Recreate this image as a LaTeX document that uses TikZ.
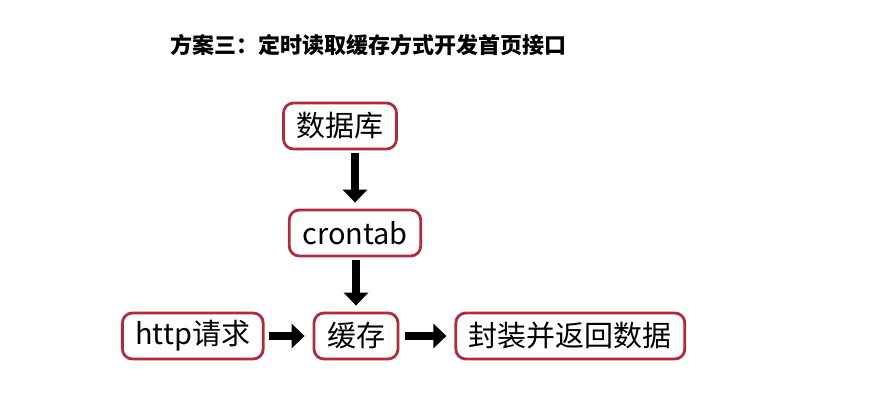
\documentclass[tikz,border=0pt]{standalone}
\usepackage{fontspec}
\setmainfont{Noto Sans CJK SC}
\usetikzlibrary{positioning, arrows.meta}
\definecolor{boxred}{RGB}{178,42,64}

\begin{document}
\begin{tikzpicture}[
          x=1pt, y=1pt,
          box/.style = {draw=boxred, line width=2.8pt, rounded corners=10pt, fill=white, minimum height=46pt, inner xsep=13pt, font=\fontsize{29}{32}\selectfont},
          blockarrow/.style = {line width=8pt, -{Triangle[length=13pt, width=24pt]}}
         ]
        \useasboundingbox (0,0) rectangle (875,401);

        % Titel
        \node[font=\fontsize{22}{26}\selectfont\bfseries] (title) at (368,356) {方案三：定时读取缓存方式开发首页接口};

        % Kästen
        \node[box] (db) at (340,275) {数据库};
        \node[box] (cron) at (355,168) {crontab};
        \node[box] (cache) at (356,65) {缓存};
        \node[box, left=48pt of cache] (http) {http请求};
        \node[box, right=55pt of cache] (result) {封装并返回数据};

        % Pfeile
        \draw[blockarrow] ([yshift=-3pt]db.south -| cron) -- ([yshift=6pt]cron.north);
        \draw[blockarrow] ([yshift=-3pt]cron.south -| cache) -- ([yshift=6pt]cache.north);
        \draw[blockarrow] ([xshift=4pt]http.east) -- ([xshift=-8pt]cache.west);
        \draw[blockarrow] ([xshift=6pt]cache.east) -- ([xshift=-8pt]result.west);

\end{tikzpicture}
\end{document}
